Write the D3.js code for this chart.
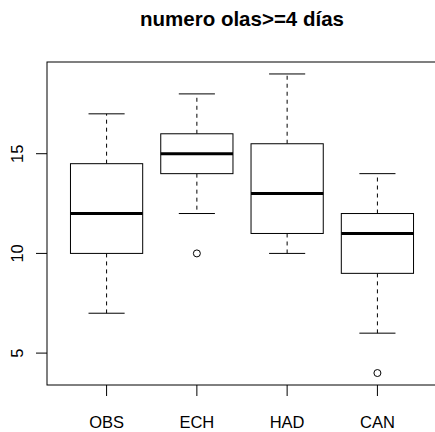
<!DOCTYPE html>
<html>
<head>
<meta charset="utf-8">
<script src="https://cdn.jsdelivr.net/npm/d3@7"></script>
<style>
  body { margin: 0; background: #fff; }
  svg { display: block; }
</style>
</head>
<body>
<div id="chart"></div>
<script>
// values
const categories = ['OBS', 'ECH', 'HAD', 'CAN'];
const whiskerLow = [7, 12, 10, 6];
const q1 = [10, 14, 11, 9];
const median = [12, 15, 13, 11];
const q3 = [14.5, 16, 15.5, 12];
const whiskerHigh = [17, 18, 19, 14];
const outliers = [[], [10], [], [4]];
const yTicks = [5, 10, 15];
const title = 'numero olas>=4 días';

const width = 435, height = 432;
const plot = {left: 47, right: 437, top: 62, bottom: 385};

const svg = d3.select('#chart').append('svg')
  .attr('width', width)
  .attr('height', height)
  .attr('font-family', '"Liberation Sans", Arial, sans-serif');

const x = d3.scaleLinear().domain([0.34, 4.66]).range([plot.left, plot.right]);
const y = d3.scaleLinear().domain([3.4, 19.6]).range([plot.bottom, plot.top]);

const boxHalf = 0.4, capHalf = 0.2;

const boxes = categories.map((c, i) => ({
  i: i + 1, name: c,
  lo: whiskerLow[i], q1: q1[i], med: median[i], q3: q3[i], hi: whiskerHigh[i],
  out: outliers[i]
}));

const g = svg.append('g');

// whiskers (dashed)
g.selectAll('line.wl').data(boxes).join('line')
  .attr('x1', d => x(d.i)).attr('x2', d => x(d.i))
  .attr('y1', d => y(d.q1)).attr('y2', d => y(d.lo))
  .attr('stroke', '#000').attr('stroke-dasharray', '4,4');
g.selectAll('line.wh').data(boxes).join('line')
  .attr('x1', d => x(d.i)).attr('x2', d => x(d.i))
  .attr('y1', d => y(d.q3)).attr('y2', d => y(d.hi))
  .attr('stroke', '#000').attr('stroke-dasharray', '4,4');

// staples
['lo', 'hi'].forEach(k => {
  g.selectAll('line.cap-' + k).data(boxes).join('line')
    .attr('x1', d => x(d.i - capHalf)).attr('x2', d => x(d.i + capHalf))
    .attr('y1', d => y(d[k])).attr('y2', d => y(d[k]))
    .attr('stroke', '#000');
});

// boxes
g.selectAll('rect.box').data(boxes).join('rect')
  .attr('x', d => x(d.i - boxHalf))
  .attr('width', d => x(d.i + boxHalf) - x(d.i - boxHalf))
  .attr('y', d => y(d.q3))
  .attr('height', d => y(d.q1) - y(d.q3))
  .attr('fill', '#fff').attr('stroke', '#000');

// medians
g.selectAll('line.med').data(boxes).join('line')
  .attr('x1', d => x(d.i - boxHalf)).attr('x2', d => x(d.i + boxHalf))
  .attr('y1', d => y(d.med)).attr('y2', d => y(d.med))
  .attr('stroke', '#000').attr('stroke-width', 3);

// outliers
const outPts = boxes.flatMap(d => d.out.map(v => ({i: d.i, v})));
g.selectAll('circle').data(outPts).join('circle')
  .attr('cx', d => x(d.i)).attr('cy', d => y(d.v))
  .attr('r', 3.5).attr('fill', 'none').attr('stroke', '#000');

// plot frame
svg.append('rect')
  .attr('x', plot.left).attr('y', plot.top)
  .attr('width', plot.right - plot.left).attr('height', plot.bottom - plot.top)
  .attr('fill', 'none').attr('stroke', '#000');

// x axis
const xAxis = svg.append('g');
xAxis.selectAll('line').data(boxes).join('line')
  .attr('x1', d => x(d.i)).attr('x2', d => x(d.i))
  .attr('y1', plot.bottom).attr('y2', plot.bottom + 11)
  .attr('stroke', '#000');
xAxis.selectAll('text').data(boxes).join('text')
  .attr('x', d => x(d.i)).attr('y', 428)
  .attr('text-anchor', 'middle')
  .attr('font-size', 16.5)
  .text(d => d.name);

// y axis
const yAxis = svg.append('g');
yAxis.selectAll('line').data(yTicks).join('line')
  .attr('x1', plot.left - 11).attr('x2', plot.left)
  .attr('y1', d => y(d)).attr('y2', d => y(d))
  .attr('stroke', '#000');
yAxis.selectAll('text').data(yTicks).join('text')
  .attr('transform', d => `translate(23,${y(d)}) rotate(-90)`)
  .attr('text-anchor', 'middle')
  .attr('font-size', 16.5)
  .text(d => d);

// title
svg.append('text')
  .attr('x', (plot.left + plot.right) / 2).attr('y', 26)
  .attr('text-anchor', 'middle')
  .attr('font-size', 20.5)
  .attr('font-weight', 'bold')
  .text(title);
</script>
</body>
</html>
